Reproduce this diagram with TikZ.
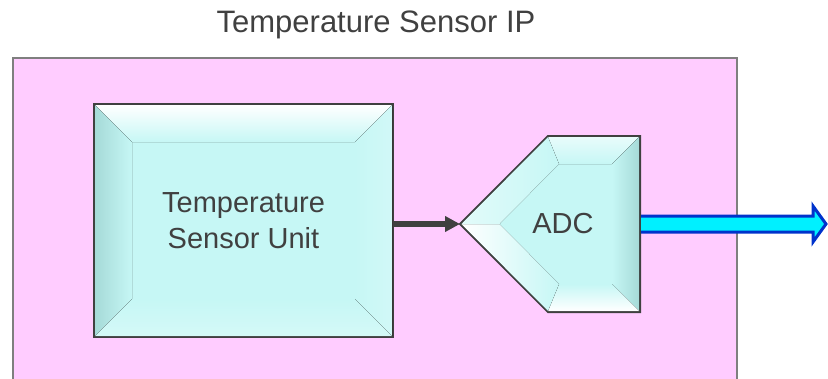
\documentclass[tikz,border=0pt]{standalone}
\usepackage{fontspec}
\setmainfont{Liberation Sans}
\usetikzlibrary{positioning,arrows.meta,shapes.symbols,calc}
\definecolor{ipbg}{HTML}{FFCCFF}
\definecolor{framegray}{HTML}{7F7F7F}
\definecolor{edgegray}{HTML}{404040}
\definecolor{txtgray}{HTML}{404040}
\definecolor{unitfill}{HTML}{C6F7F5}
\definecolor{unitdark}{HTML}{A6DAD8}
\definecolor{busblue}{HTML}{0033CC}
\definecolor{buscyan}{HTML}{00F0FF}

\begin{document}
\begin{tikzpicture}[
      x=1pt, y=-1pt,
      frame/.style={draw=framegray, line width=1.5pt, fill=ipbg},
      title/.style={text=txtgray, font=\fontsize{31}{38}\selectfont},
      unit/.style={draw=edgegray, line width=2pt, fill=unitfill, outer sep=0pt,
                   minimum width=299pt, minimum height=233pt, align=center,
                   text=txtgray, font=\fontsize{29}{36}\selectfont},
      conv/.style={draw=edgegray, line width=2pt, fill=unitfill, outer sep=0pt,
                   signal, signal to=west, signal from=nowhere,
                   signal pointer angle=90, inner sep=0pt,
                   minimum width=180pt, minimum height=176pt},
      lit/.style={top color=white, bottom color=unitfill, draw=none},
      shade/.style={left color=unitdark, right color=unitfill, draw=none},
      sig/.style={-{Triangle[length=15pt, width=15pt]}, line width=6pt, draw=edgegray},
      bus/.style={draw=busblue, fill=buscyan, line width=3pt, line join=miter}
    ]
    \useasboundingbox (0,0) rectangle (828,378);

    \node[frame, minimum width=724pt, minimum height=330pt, anchor=north west]
      (ip) at (12,57) {};
    \node[title] (iptitle) at (376,25) {Temperature Sensor IP};

    \node[unit] (tsu) at (243.5,220.5) {};
    \node[conv, anchor=west] (adc) at (460,224) {};
    \coordinate (out) at (826,224);

    % bevels of the sensor unit
    \fill[lit] ($(tsu.north west)+(1,1)$) -- ($(tsu.north east)+(-1,1)$)
      -- ($(tsu.north east)+(-38,38)$) -- ($(tsu.north west)+(38,38)$) -- cycle;
    \fill[shade] ($(tsu.north west)+(1,1)$) -- ($(tsu.north west)+(38,38)$)
      -- ($(tsu.south west)+(38,-38)$) -- ($(tsu.south west)+(1,-1)$) -- cycle;
    \fill[left color=unitfill, right color=unitfill!80!white]
      ($(tsu.north east)+(-1,1)$) -- ($(tsu.north east)+(-38,38)$)
      -- ($(tsu.south east)+(-38,-38)$) -- ($(tsu.south east)+(-1,-1)$) -- cycle;
    \fill[top color=unitfill, bottom color=unitfill!75!white]
      ($(tsu.south west)+(1,-1)$) -- ($(tsu.south west)+(38,-38)$)
      -- ($(tsu.south east)+(-38,-38)$) -- ($(tsu.south east)+(-1,-1)$) -- cycle;
    \node[text=txtgray, font=\fontsize{29}{36}\selectfont, align=center]
      (tsulabel) at (tsu.center) {Temperature\\Sensor Unit};

    % bevels of the converter
    \coordinate (tip) at ($(adc.west)+(1.5,0)$);
    \coordinate (tl) at ($(adc.east |- adc.north)+(-92,1)$);
    \coordinate (tr) at ($(adc.east |- adc.north)+(-1,1)$);
    \coordinate (br) at ($(adc.east |- adc.south)+(-1,-1)$);
    \coordinate (bl) at ($(adc.east |- adc.south)+(-92,-1)$);
    \fill[top color=white!60!unitfill, bottom color=unitfill]
      (tl) -- (tr) -- ($(tr)+(-27,27)$) -- ($(tl)+(11,27)$) -- cycle;
    \fill[left color=unitfill, right color=unitdark]
      (tr) -- (br) -- ($(br)+(-27,-27)$) -- ($(tr)+(-27,27)$) -- cycle;
    \fill[top color=unitfill, bottom color=white]
      (br) -- (bl) -- ($(bl)+(11,-27)$) -- ($(br)+(-27,-27)$) -- cycle;
    \fill[left color=white, right color=unitfill]
      (bl) -- (tip) -- ($(tip)+(38,0)$) -- ($(bl)+(11,-27)$) -- cycle;
    \fill[left color=white!50!unitfill, right color=unitfill]
      (tip) -- (tl) -- ($(tl)+(11,27)$) -- ($(tip)+(38,0)$) -- cycle;
    \node[text=txtgray, font=\fontsize{29}{36}\selectfont] (adclabel)
      at ($(adc.east)+(-77,0)$) {ADC};

    \draw[sig] (tsu.east |- adc.west) -- (adc.west);
    \draw[bus] ($(adc.east)+(1,-8)$) -- ($(out)+(-13,-8)$) -- ($(out)+(-13,-18)$)
      -- (out) -- ($(out)+(-13,18)$) -- ($(out)+(-13,8)$) -- ($(adc.east)+(1,8)$);

  \end{tikzpicture}
\end{document}
